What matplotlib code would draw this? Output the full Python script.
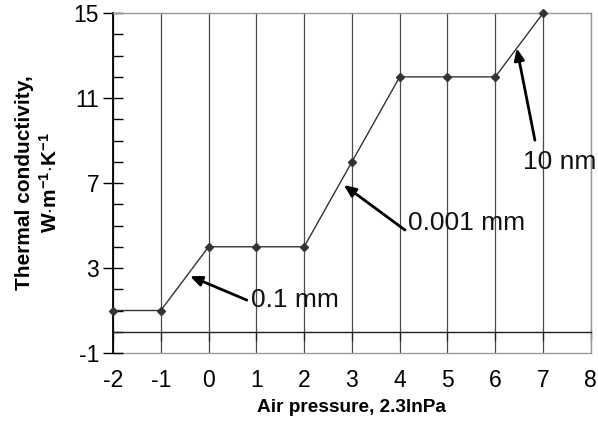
import matplotlib
matplotlib.use("Agg")
import matplotlib.pyplot as plt
from matplotlib.ticker import MultipleLocator, FixedLocator

plt.rcParams['font.family'] = ['Liberation Sans', 'DejaVu Sans']
plt.rcParams['axes.unicode_minus'] = False
plt.rcParams['mathtext.fontset'] = 'custom'
plt.rcParams['mathtext.rm'] = 'Liberation Sans:bold'
plt.rcParams['mathtext.bf'] = 'Liberation Sans:bold'
plt.rcParams['mathtext.default'] = 'bf'

# data
pressure = [-2, -1, 0, 1, 2, 3, 4, 5, 6, 7]
conductivity = [1, 1, 4, 4, 4, 8, 12, 12, 12, 15]
x_ticks = list(range(-2, 9))
y_major = [-1, 3, 7, 11, 15]

# (label, arrow tip, arrow tail, text position at baseline) in data units
notes = [
    ("0.1 mm", (-0.39, 2.62), (0.80, 1.49), (0.88, 1.17)),
    ("0.001 mm", (2.83, 6.91), (4.11, 4.79), (4.18, 4.79)),
    ("10 nm", (6.45, 13.35), (6.83, 9.02), (6.58, 7.66)),
]

fig = plt.figure(figsize=(5.98, 4.24), dpi=100)
ax = fig.add_axes([0.189, 0.1675, 0.799, 0.8015])

ax.set_xlim(-2, 8)
ax.set_ylim(-1, 15)

# vertical grid lines
for xv in x_ticks:
    ax.axvline(xv, color='#4a4a4a', lw=0.9, zorder=1)
ax.axhline(-1, color='#999999', lw=1.0, zorder=1, clip_on=False)

ax.plot(pressure, conductivity, color='#333333', lw=1.0, marker='D',
        markersize=4.5, zorder=3, clip_on=False)

for label, tip, tail, pos in notes:
    ax.annotate('', xy=tip, xytext=tail,
                arrowprops=dict(arrowstyle='-|>,head_length=0.7,head_width=0.3',
                                lw=2.0, color='black', shrinkA=0, shrinkB=0))
    ax.text(pos[0], pos[1], label, fontsize=19, ha='left', va='baseline',
            clip_on=False, zorder=4, color='#111111')

# spines
ax.spines['bottom'].set_position(('data', 0))
ax.spines['bottom'].set_color('#222222')
ax.spines['bottom'].set_linewidth(1.0)
ax.spines['left'].set_color('black')
ax.spines['left'].set_linewidth(1.3)
for s in ['top', 'right']:
    ax.spines[s].set_color('#999999')
    ax.spines[s].set_linewidth(1.0)

ax.xaxis.set_major_locator(FixedLocator(x_ticks))
ax.tick_params(axis='x', direction='out', length=6.5, width=0.9,
               color='#222222', labelsize=16.5, pad=20.5)
ax.yaxis.set_major_locator(FixedLocator(y_major))
ax.yaxis.set_minor_locator(MultipleLocator(1))
ax.tick_params(axis='y', which='major', direction='inout', length=14,
               width=1.0, labelsize=16.5, pad=3)
ax.tick_params(axis='y', which='minor', direction='in', length=7, width=1.0)

ax.set_xlabel('Air pressure, 2.3lnPa', fontsize=13.7, fontweight='bold',
              labelpad=5)
ax.set_ylabel('Thermal conductivity,\nW$\\cdot$m$^{-1}$$\\cdot$K$^{-1}$',
              fontsize=15, fontweight='bold', labelpad=9, linespacing=1.3)

fig.savefig('out.png', dpi=100)
